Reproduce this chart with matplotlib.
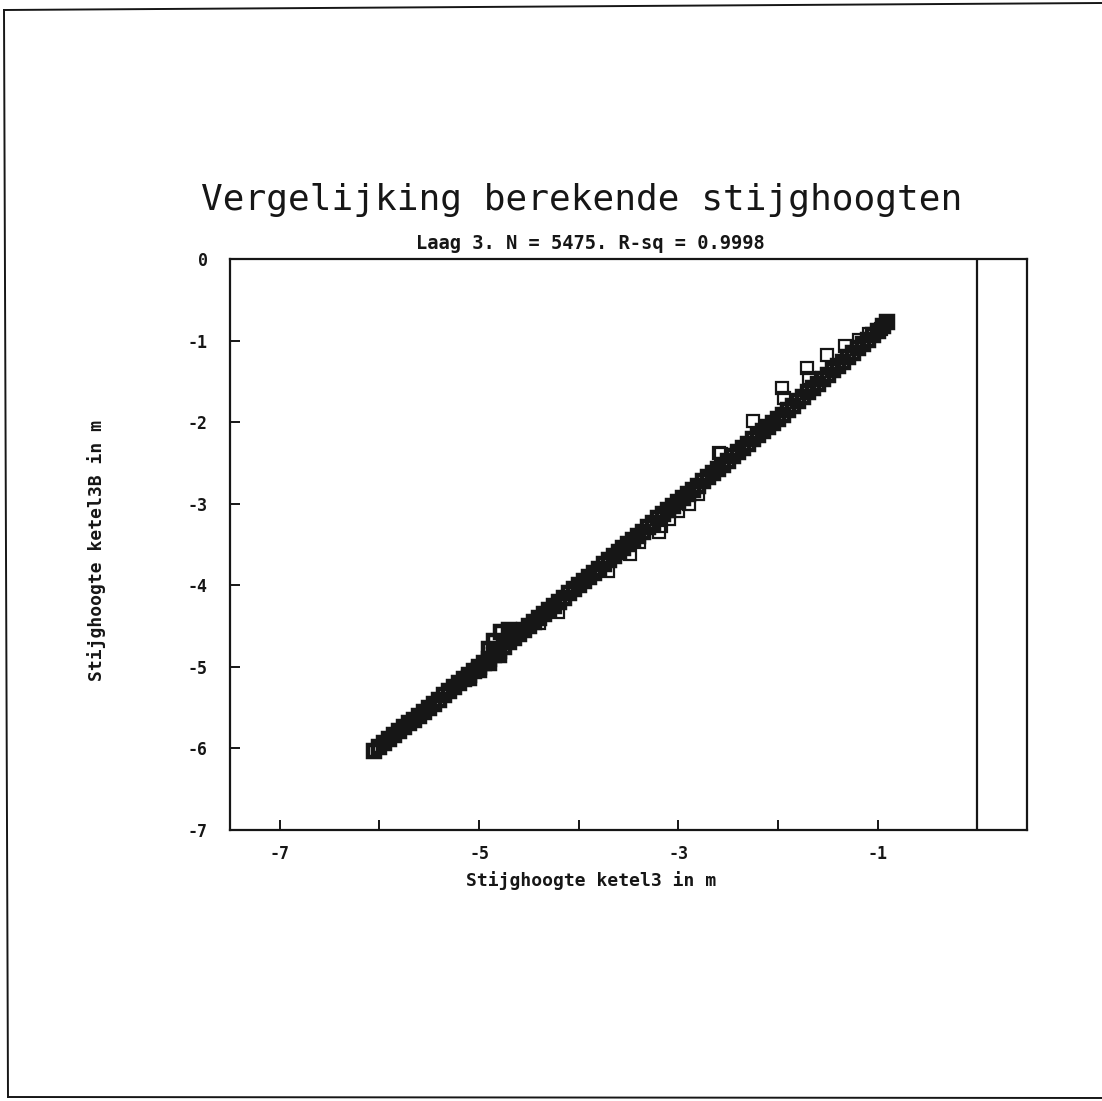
"""
Spreidingsdiagram: berekende stijghoogten ketel3 tegen ketel3B (laag 3).
"""

import matplotlib

matplotlib.use("Agg")
import matplotlib.pyplot as plt
from matplotlib.lines import Line2D

plt.rcParams["font.family"] = ["DejaVu Sans Mono"]
plt.rcParams["axes.unicode_minus"] = False

TITLE = "Vergelijking berekende stijghoogten"
SUBTITLE = "Laag 3. N = 5475. R-sq = 0.9998"
X_LABEL = "Stijghoogte ketel3 in m"
Y_LABEL = "Stijghoogte ketel3B in m"

X_TICKS = [-7, -6, -5, -4, -3, -2, -1]
X_TICK_LABELS = ["-7", "", "-5", "", "-3", "", "-1"]
Y_TICKS = [0, -1, -2, -3, -4, -5, -6, -7]
Y_TICK_LABELS = ["0", "-1", "-2", "-3", "-4", "-5", "-6", "-7"]

# hoofdband van de punten (ketel3, ketel3B)
band_x = [
    -6.05, -6.00, -5.95, -5.90, -5.85, -5.80, -5.75, -5.70, -5.65, -5.60,
    -5.55, -5.50, -5.45, -5.40, -5.35, -5.30, -5.25, -5.20, -5.15, -5.10,
    -5.05, -5.00, -4.95, -4.90, -4.85, -4.80, -4.75, -4.70, -4.65, -4.60,
    -4.55, -4.50, -4.45, -4.40, -4.35, -4.30, -4.25, -4.20, -4.15, -4.10,
    -4.05, -4.00, -3.95, -3.90, -3.85, -3.80, -3.75, -3.70, -3.65, -3.60,
    -3.55, -3.50, -3.45, -3.40, -3.35, -3.30, -3.25, -3.20, -3.15, -3.10,
    -3.05, -3.00, -2.95, -2.90, -2.85, -2.80, -2.75, -2.70, -2.65, -2.60,
    -2.55, -2.50, -2.45, -2.40, -2.35, -2.30, -2.25, -2.20, -2.15, -2.10,
    -2.05, -2.00, -1.95, -1.90, -1.85, -1.80, -1.75, -1.70, -1.65, -1.60,
    -1.55, -1.50, -1.45, -1.40, -1.35, -1.30, -1.25, -1.20, -1.15, -1.10,
    -1.05, -1.00, -0.95, -0.90,
]
band_y = [
    -6.03, -5.98, -5.93, -5.88, -5.84, -5.79, -5.74, -5.69, -5.65, -5.60,
    -5.55, -5.50, -5.45, -5.40, -5.35, -5.30, -5.25, -5.20, -5.15, -5.10,
    -5.05, -5.00, -4.95, -4.90, -4.85, -4.80, -4.75, -4.70, -4.65, -4.60,
    -4.55, -4.50, -4.45, -4.40, -4.35, -4.30, -4.25, -4.20, -4.15, -4.10,
    -4.05, -4.00, -3.95, -3.90, -3.85, -3.80, -3.74, -3.69, -3.64, -3.59,
    -3.54, -3.49, -3.44, -3.39, -3.34, -3.29, -3.23, -3.18, -3.13, -3.08,
    -3.03, -2.98, -2.93, -2.88, -2.83, -2.78, -2.72, -2.67, -2.62, -2.57,
    -2.52, -2.47, -2.42, -2.37, -2.32, -2.27, -2.21, -2.16, -2.11, -2.06,
    -2.01, -1.96, -1.91, -1.85, -1.80, -1.74, -1.69, -1.63, -1.58, -1.53,
    -1.47, -1.42, -1.36, -1.31, -1.26, -1.20, -1.15, -1.09, -1.04, -0.99,
    -0.93, -0.88, -0.82, -0.77,
]

# verbreding van de band rond -5 en de knik bij -4.7
extra_x = [-5.10, -5.00, -4.90, -4.85, -4.80, -4.78, -4.70, -4.63, -4.90]
extra_y = [-5.13, -5.04, -4.95, -4.68, -4.85, -4.57, -4.55, -4.57, -4.78]

# losse punten boven de band
above_x = [-1.96, -1.94, -1.71, -1.69, -1.51, -1.33, -1.19, -1.09, -0.97, -2.25, -2.57, -2.59]
above_y = [-1.58, -1.70, -1.33, -1.46, -1.17, -1.06, -0.99, -0.92, -0.86, -1.98, -2.39, -2.38]

# losse punten onder de band
below_x = [-4.21, -4.40, -3.71, -3.48, -3.39, -3.19, -3.17, -3.09, -3.00, -2.89, -2.80]
below_y = [-4.33, -4.46, -3.83, -3.62, -3.47, -3.35, -3.27, -3.19, -3.09, -3.00, -2.88]

INK = "#161616"

fig = plt.figure(figsize=(11.02, 11.01), dpi=100)
ax = fig.add_axes([0.2087, 0.2461, 0.7232, 0.5186])

# de dichte band: overlappende open vierkantjes worden vrijwel zwart
ax.plot(band_x + extra_x, band_y + extra_y, linestyle="none", marker="s", markersize=9,
        markerfacecolor="none", markeredgecolor=INK, markeredgewidth=3.2)
# losse punten als open vierkantjes erbovenop
ax.plot(above_x + below_x, above_y + below_y, linestyle="none", marker="s", markersize=8,
        markerfacecolor="none", markeredgecolor=INK, markeredgewidth=1.6)
ax.axvline(0, color=INK, linewidth=1.6)

ax.set_xlim(-7.5, 0.5)
ax.set_ylim(-7, 0)
ax.set_xticks(X_TICKS)
ax.set_xticklabels(X_TICK_LABELS)
ax.set_yticks(Y_TICKS)
ax.set_yticklabels(Y_TICK_LABELS)
ax.tick_params(axis="both", direction="in", length=7, width=1.4, colors=INK,
               labelsize=12, top=False, right=False)
ax.tick_params(axis="x", pad=11)
ax.tick_params(axis="y", pad=16)
for lbl in ax.get_xticklabels() + ax.get_yticklabels():
    lbl.set_fontweight("bold")
for side in ["left", "bottom", "top", "right"]:
    ax.spines[side].set_linewidth(1.6)
    ax.spines[side].set_color(INK)

fig.text(0.528, 0.818, TITLE, ha="center", va="center", fontsize=26, color=INK)
fig.text(0.536, 0.779, SUBTITLE, ha="center", va="center", fontsize=13.5,
         fontweight="bold", color=INK)
fig.text(0.536, 0.200, X_LABEL, ha="center", va="center", fontsize=13,
         fontweight="bold", color=INK)
fig.text(0.088, 0.500, Y_LABEL, ha="center", va="center", rotation=90, fontsize=13,
         fontweight="bold", color=INK)

# paginarand (boven, links, onder)
W, H = 1102, 1101
fig.add_artist(Line2D([4 / W, 1.0], [1 - 10 / H, 1 - 3 / H], transform=fig.transFigure,
                      color=INK, linewidth=1.4))
fig.add_artist(Line2D([4 / W, 8 / W], [1 - 10 / H, 1 - 1097 / H], transform=fig.transFigure,
                      color=INK, linewidth=1.4))
fig.add_artist(Line2D([8 / W, 1.0], [1 - 1097 / H, 1 - 1098 / H], transform=fig.transFigure,
                      color=INK, linewidth=1.4))

fig.savefig("out.png", dpi=100)
